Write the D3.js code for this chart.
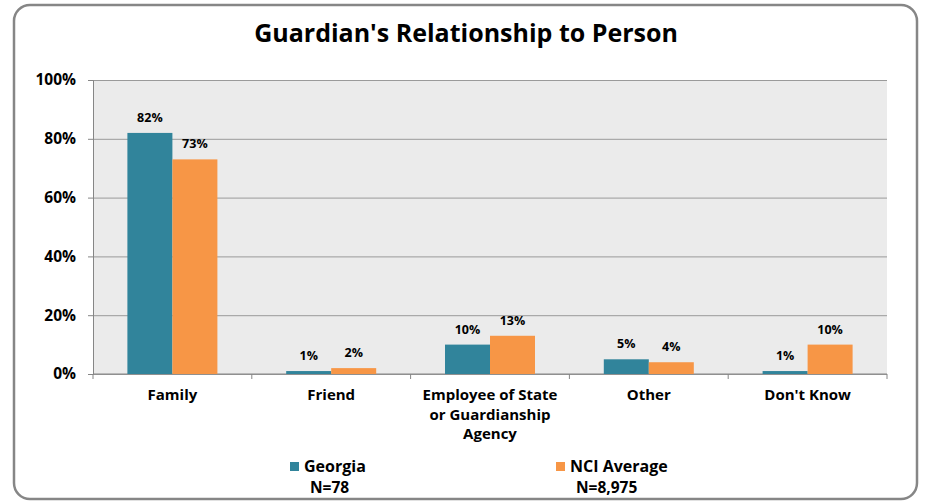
<!DOCTYPE html>
<meta charset='utf-8'>
<style>
body {
    margin: 0;
    background: #fff;
}
svg text {
    font-family: 'Open Sans', sans-serif;
    font-weight: bold;
    fill: #000;
}
.grid line {
    stroke: #9a9a9a;
    stroke-width: 1px;
}
</style>
<body>
<div class='chart'></div>
<script src='https://cdn.jsdelivr.net/npm/d3@7'></script>
<script>
var categories = ['Family', 'Friend', 'Employee of State|or Guardianship|Agency', 'Other', "Don't Know"];
var georgia = [82, 1, 10, 5, 1];
var nciAverage = [73, 2, 13, 4, 10];
var yTicks = [0, 20, 40, 60, 80, 100];
var seriesNames = ['Georgia', 'NCI Average'];
var seriesN = ['N=78', 'N=8,975'];
var colors = ['#31849b', '#f79646'];

var width = 926, height = 502;
var margin = {left: 93, right: 39, top: 80, bottom: 128};

var svg = d3.select('.chart').append('svg')
    .attr('width', width)
    .attr('height', height);

// outer frame
svg.append('rect')
    .attr('x', 14).attr('y', 5)
    .attr('width', 903).attr('height', 494)
    .attr('rx', 16)
    .attr('fill', '#fff')
    .attr('stroke', '#868686')
    .attr('stroke-width', 2.5);

svg.append('text')
    .attr('x', 466).attr('y', 42)
    .attr('text-anchor', 'middle')
    .style('font-size', '25px')
    .text("Guardian's Relationship to Person");

var x = d3.scaleBand()
    .domain(d3.range(categories.length))
    .range([margin.left, width - margin.right]);

var inner = d3.scaleBand()
    .domain([0, 1])
    .range([0, 90])
    .padding(0);

var y = d3.scaleLinear()
    .domain([0, 100])
    .range([height - margin.bottom, margin.top]);

var g = svg.append('g');

g.append('rect')
    .attr('x', margin.left).attr('y', margin.top)
    .attr('width', width - margin.right - margin.left)
    .attr('height', y(0) - y(100))
    .attr('fill', '#ebebeb');

var grid = g.append('g')
    .attr('class', 'grid')
    .attr('transform', 'translate(' + margin.left + ',0)')
    .call(d3.axisLeft(y).tickValues(yTicks)
        .tickSize(-(width - margin.right - margin.left))
        .tickFormat(''));
grid.select('.domain').remove();

var yAxis = g.append('g')
    .attr('transform', 'translate(' + margin.left + ',0)')
    .call(d3.axisLeft(y).tickValues(yTicks).tickSize(5).tickPadding(12)
        .tickFormat(function(d) { return d + '%'; }));
yAxis.selectAll('text').style('font-size', '15.5px');
yAxis.selectAll('line, path').attr('stroke', '#868686');

// x axis with ticks on the band edges
var xAxis = g.append('g');
xAxis.append('line')
    .attr('x1', margin.left).attr('x2', width - margin.right)
    .attr('y1', y(0)).attr('y2', y(0))
    .attr('stroke', '#868686');
xAxis.selectAll('.tick')
    .data(d3.range(categories.length + 1))
    .enter().append('line')
    .attr('x1', function(d) { return margin.left + d * x.bandwidth(); })
    .attr('x2', function(d) { return margin.left + d * x.bandwidth(); })
    .attr('y1', y(0)).attr('y2', y(0) + 5)
    .attr('stroke', '#868686');

// one text per line so wrapped labels do not collide
xAxis.selectAll('.lbl')
    .data(categories)
    .enter().append('g')
    .each(function(d, i) {
        var cx = x(i) + x.bandwidth() / 2;
        d3.select(this).selectAll('text')
            .data(d.split('|'))
            .enter().append('text')
            .attr('text-anchor', 'middle')
            .attr('x', cx)
            .attr('y', function(t, k) { return y(0) + 26 + k * 19.5; })
            .style('font-size', '15px')
            .text(function(t) { return t; });
    });

var series = [georgia, nciAverage];

series.forEach(function(vals, s) {
    var bars = g.append('g');
    bars.selectAll('rect')
        .data(vals)
        .enter().append('rect')
        .attr('x', function(d, i) { return x(i) + (x.bandwidth() - 90) / 2 + inner(s); })
        .attr('y', function(d) { return y(d); })
        .attr('width', inner.bandwidth())
        .attr('height', function(d) { return y(0) - y(d); })
        .attr('fill', colors[s]);
    bars.selectAll('text')
        .data(vals)
        .enter().append('text')
        .attr('text-anchor', 'middle')
        .attr('x', function(d, i) { return x(i) + (x.bandwidth() - 90) / 2 + inner(s) + inner.bandwidth() / 2; })
        .attr('y', function(d) { return y(d) - 11; })
        .style('font-size', '12.5px')
        .text(function(d) { return d + '%'; });
});

// legend
var legendX = [290, 556];
var legend = svg.selectAll('.legend')
    .data(seriesNames)
    .enter().append('g')
    .attr('transform', function(d, i) { return 'translate(' + legendX[i] + ',0)'; });
legend.append('rect')
    .attr('x', 0).attr('y', 462)
    .attr('width', 9).attr('height', 9)
    .attr('fill', function(d, i) { return colors[i]; });
legend.append('text')
    .attr('x', 14).attr('y', 472)
    .style('font-size', '16px')
    .text(function(d) { return d; });
legend.append('text')
    .attr('x', 20)
    .attr('y', 493)
    .style('font-size', '15.5px')
    .text(function(d, i) { return seriesN[i]; });
</script>
</body>
